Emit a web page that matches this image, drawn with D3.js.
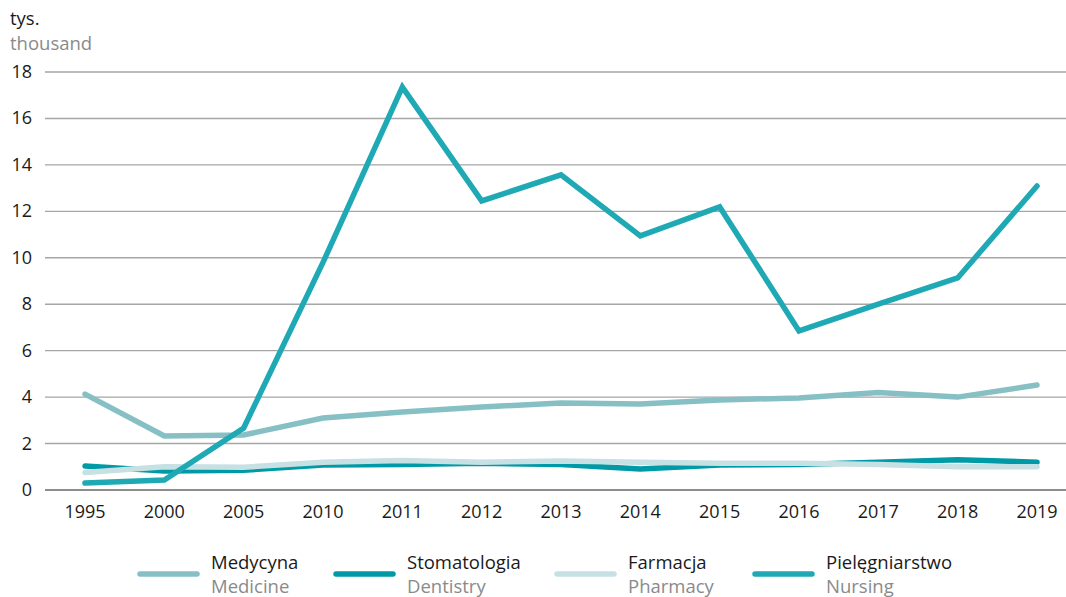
<!DOCTYPE html>
<html>
<head>
<meta charset="utf-8">
<script src="https://cdn.jsdelivr.net/npm/d3@7"></script>
<style>
  body { margin: 0; background: #fff; }
  svg { display: block; font-family: "Open Sans", "Noto Sans", sans-serif; }
</style>
</head>
<body>
<svg id="chart" width="1066" height="597"></svg>
<script>
const years = ["1995", "2000", "2005", "2010", "2011", "2012", "2013", "2014", "2015", "2016", "2017", "2018", "2019"];
const medicine  = [4.13, 2.33, 2.37, 3.1, 3.36, 3.57, 3.75, 3.7, 3.88, 3.96, 4.2, 4.0, 4.52];
const dentistry = [1.03, 0.82, 0.85, 1.08, 1.1, 1.15, 1.1, 0.9, 1.08, 1.1, 1.2, 1.3, 1.2];
const pharmacy  = [0.75, 1.0, 0.98, 1.2, 1.27, 1.2, 1.25, 1.2, 1.15, 1.15, 1.1, 1.0, 1.0];
const nursing   = [0.3, 0.43, 2.67, 9.8, 17.35, 12.45, 13.57, 10.94, 12.19, 6.85, 8.0, 9.13, 13.09];
const yTicks = [0, 2, 4, 6, 8, 10, 12, 14, 16, 18];

const series = [
  { pl: "Medycyna", en: "Medicine", values: medicine, color: "#86c0c5" },
  { pl: "Stomatologia", en: "Dentistry", values: dentistry, color: "#009aa6" },
  { pl: "Farmacja", en: "Pharmacy", values: pharmacy, color: "#c6e0e3" },
  { pl: "Pielęgniarstwo", en: "Nursing", values: nursing, color: "#1fa9b4" }
];

const svg = d3.select("#chart");

const x = d3.scalePoint().domain(years).range([85, 1037]);
const y = d3.scaleLinear().domain([0, 18]).range([490, 72]);

// unit label
svg.append("text").attr("x", 10).attr("y", 25)
  .attr("font-size", 18.5).attr("fill", "#1a1a1a").text("tys.");
svg.append("text").attr("x", 10).attr("y", 50)
  .attr("font-size", 18.5).attr("fill", "#8a8a8a").text("thousand");

// gridlines
svg.append("g").selectAll("line")
  .data(yTicks)
  .join("line")
    .attr("x1", 45).attr("x2", 1066)
    .attr("y1", d => y(d)).attr("y2", d => y(d))
    .attr("stroke", d => d === 0 ? "#8c8c8c" : "#a6a6a6")
    .attr("stroke-width", d => d === 0 ? 2 : 1.4);

// y labels
svg.append("g")
    .attr("font-size", 18)
    .attr("fill", "#1a1a1a")
    .attr("text-anchor", "end")
  .selectAll("text")
  .data(yTicks)
  .join("text")
    .attr("x", 32)
    .attr("y", d => y(d) + 6)
    .text(d => d);

// x labels
svg.append("g")
    .attr("font-size", 18)
    .attr("fill", "#1a1a1a")
    .attr("text-anchor", "middle")
  .selectAll("text")
  .data(years)
  .join("text")
    .attr("x", d => x(d))
    .attr("y", 518)
    .text(d => d);

const line = d3.line()
    .x((d, i) => x(years[i]))
    .y(d => y(d));

svg.append("g").selectAll("path")
  .data(series)
  .join("path")
    .attr("d", d => line(d.values))
    .attr("fill", "none")
    .attr("stroke", d => d.color)
    .attr("stroke-width", 5.5)
    .attr("stroke-linejoin", "miter")
    .attr("stroke-linecap", "round");

// legend
const legendX = [140, 336, 557, 755];
const legend = svg.append("g").selectAll("g")
  .data(series)
  .join("g")
    .attr("transform", (d, i) => `translate(${legendX[i]},0)`);

legend.append("line")
    .attr("x1", 0).attr("x2", 57)
    .attr("y1", 574).attr("y2", 574)
    .attr("stroke", d => d.color)
    .attr("stroke-width", 5.5)
    .attr("stroke-linecap", "round");

legend.append("text")
    .attr("x", 71).attr("y", 569)
    .attr("font-size", 18.5).attr("fill", "#1a1a1a")
    .text(d => d.pl);

legend.append("text")
    .attr("x", 71).attr("y", 593)
    .attr("font-size", 18.5).attr("fill", "#8a8a8a")
    .text(d => d.en);
</script>
</body>
</html>
